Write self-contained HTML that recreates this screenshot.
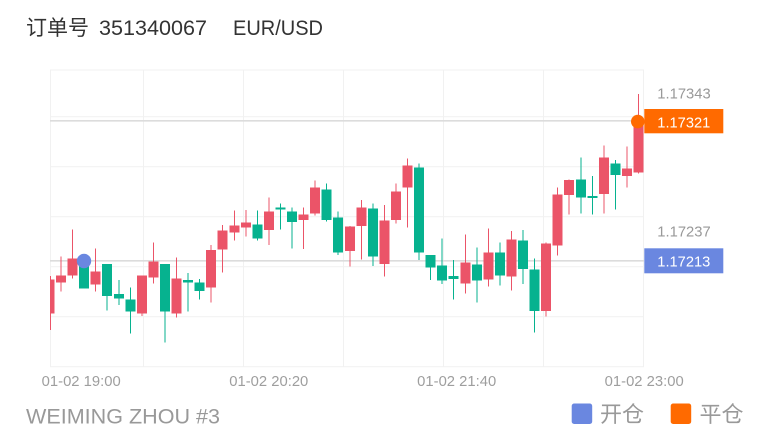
<!DOCTYPE html>
<html>
<head>
<meta charset="utf-8">
<style>
html,body{margin:0;padding:0;background:#fff;}
svg{display:block;}
</style>
</head>
<body>
<svg width="770" height="440" viewBox="0 0 770 440" xmlns="http://www.w3.org/2000/svg">
<rect width="770" height="440" fill="#fff"/>
<!-- title -->
<text x="26" y="35" font-family="'Noto Sans CJK SC', sans-serif" font-size="21" fill="#333">订单号</text>
<text x="99" y="35" font-family="'Liberation Sans', sans-serif" font-size="21" fill="#333" textLength="108" lengthAdjust="spacingAndGlyphs">351340067</text>
<text x="233" y="35" font-family="'Liberation Sans', sans-serif" font-size="21" fill="#333" textLength="90" lengthAdjust="spacingAndGlyphs">EUR/USD</text>

<!-- grid -->
<g stroke="#f1f1f1" stroke-width="1" fill="none">
<line x1="50" y1="70" x2="644" y2="70"/>
<line x1="50" y1="116.7" x2="644" y2="116.7"/>
<line x1="50" y1="166.7" x2="644" y2="166.7"/>
<line x1="50" y1="216.7" x2="644" y2="216.7"/>
<line x1="50" y1="266.7" x2="644" y2="266.7"/>
<line x1="50" y1="316.7" x2="644" y2="316.7"/>
<line x1="50" y1="366.7" x2="644" y2="366.7"/>
<line x1="50.5" y1="70" x2="50.5" y2="366.7"/>
<line x1="143.5" y1="70" x2="143.5" y2="366.7"/>
<line x1="243.5" y1="70" x2="243.5" y2="366.7"/>
<line x1="343.5" y1="70" x2="343.5" y2="366.7"/>
<line x1="443.5" y1="70" x2="443.5" y2="366.7"/>
<line x1="543.5" y1="70" x2="543.5" y2="366.7"/>
<line x1="643.5" y1="70" x2="643.5" y2="366.7"/>
</g>

<!-- reference lines -->
<line x1="50" y1="120.8" x2="644" y2="120.8" stroke="#dcdcdc" stroke-width="1.6"/>
<line x1="50" y1="260.8" x2="644" y2="260.8" stroke="#dcdcdc" stroke-width="1.6"/>

<!-- candles -->
<g id="candles"></g>
<g shape-rendering="crispEdges">
<!-- generated below statically -->
<line x1="50.5" y1="276" x2="50.5" y2="330" stroke="#eb5468"/><rect x="50" y="279.3" width="4.7" height="34" fill="#eb5468"/>
<line x1="61.0" y1="256.7" x2="61.0" y2="291.7" stroke="#eb5468"/><rect x="56.0" y="275.7" width="10" height="6.6" fill="#eb5468"/>
<line x1="72.55" y1="229.3" x2="72.55" y2="278.3" stroke="#eb5468"/><rect x="67.55" y="258.3" width="10" height="17.4" fill="#eb5468"/>
<line x1="84.1" y1="255" x2="84.1" y2="288.3" stroke="#06b28f"/><rect x="79.1" y="259" width="10" height="29.3" fill="#06b28f"/>
<line x1="95.65" y1="248.3" x2="95.65" y2="291.7" stroke="#eb5468"/><rect x="90.65" y="271.7" width="10" height="12.6" fill="#eb5468"/>
<line x1="107.2" y1="264" x2="107.2" y2="310.7" stroke="#06b28f"/><rect x="102.2" y="264" width="10" height="32" fill="#06b28f"/>
<line x1="118.75" y1="280" x2="118.75" y2="305" stroke="#06b28f"/><rect x="113.75" y="294" width="10" height="4.3" fill="#06b28f"/>
<line x1="130.3" y1="287.7" x2="130.3" y2="333.3" stroke="#06b28f"/><rect x="125.3" y="299.3" width="10" height="12.4" fill="#06b28f"/>
<line x1="141.85" y1="275.7" x2="141.85" y2="316" stroke="#eb5468"/><rect x="136.85" y="275.7" width="10" height="37.6" fill="#eb5468"/>
<line x1="153.4" y1="242.7" x2="153.4" y2="283.3" stroke="#eb5468"/><rect x="148.4" y="261.7" width="10" height="16" fill="#eb5468"/>
<line x1="164.95" y1="264" x2="164.95" y2="342.3" stroke="#06b28f"/><rect x="159.95" y="264" width="10" height="47.7" fill="#06b28f"/>
<line x1="176.5" y1="257.7" x2="176.5" y2="317.7" stroke="#eb5468"/><rect x="171.5" y="278.3" width="10" height="35" fill="#eb5468"/>
<line x1="188.05" y1="273" x2="188.05" y2="311.5" stroke="#06b28f"/><rect x="183.05" y="280" width="10" height="2.5" fill="#06b28f"/>
<line x1="199.6" y1="279" x2="199.6" y2="299.3" stroke="#06b28f"/><rect x="194.6" y="282.3" width="10" height="8.7" fill="#06b28f"/>
<line x1="211.15" y1="245" x2="211.15" y2="302.3" stroke="#eb5468"/><rect x="206.15" y="250" width="10" height="37.3" fill="#eb5468"/>
<line x1="222.7" y1="225" x2="222.7" y2="272.3" stroke="#eb5468"/><rect x="217.7" y="230.7" width="10" height="19" fill="#eb5468"/>
<line x1="234.25" y1="210.7" x2="234.25" y2="240.3" stroke="#eb5468"/><rect x="229.25" y="225.7" width="10" height="6.6" fill="#eb5468"/>
<line x1="245.8" y1="210" x2="245.8" y2="236.7" stroke="#eb5468"/><rect x="240.8" y="222.7" width="10" height="4.6" fill="#eb5468"/>
<line x1="257.35" y1="210.7" x2="257.35" y2="240.3" stroke="#06b28f"/><rect x="252.35" y="224.3" width="10" height="14" fill="#06b28f"/>
<line x1="268.9" y1="197.7" x2="268.9" y2="245" stroke="#eb5468"/><rect x="263.9" y="211.7" width="10" height="18.3" fill="#eb5468"/>
<line x1="280.45" y1="203.3" x2="280.45" y2="229.3" stroke="#06b28f"/><rect x="275.45" y="207.3" width="10" height="2.2" fill="#06b28f"/>
<line x1="292.0" y1="207.7" x2="292.0" y2="248.3" stroke="#06b28f"/><rect x="287.0" y="211.7" width="10" height="10.3" fill="#06b28f"/>
<line x1="303.55" y1="207.7" x2="303.55" y2="249" stroke="#eb5468"/><rect x="298.55" y="214.3" width="10" height="5.7" fill="#eb5468"/>
<line x1="315.1" y1="180.7" x2="315.1" y2="215.7" stroke="#eb5468"/><rect x="310.1" y="187.7" width="10" height="25.6" fill="#eb5468"/>
<line x1="326.65" y1="183.3" x2="326.65" y2="221.7" stroke="#06b28f"/><rect x="321.65" y="189.3" width="10" height="30.7" fill="#06b28f"/>
<line x1="338.2" y1="211.7" x2="338.2" y2="255" stroke="#06b28f"/><rect x="333.2" y="217.7" width="10" height="34.6" fill="#06b28f"/>
<line x1="349.75" y1="226" x2="349.75" y2="266.7" stroke="#eb5468"/><rect x="344.75" y="226.7" width="10" height="24.3" fill="#eb5468"/>
<line x1="361.3" y1="200" x2="361.3" y2="259.3" stroke="#eb5468"/><rect x="356.3" y="207.3" width="10" height="18.7" fill="#eb5468"/>
<line x1="372.85" y1="203.3" x2="372.85" y2="266" stroke="#06b28f"/><rect x="367.85" y="208.7" width="10" height="48" fill="#06b28f"/>
<line x1="384.4" y1="205" x2="384.4" y2="276.7" stroke="#eb5468"/><rect x="379.4" y="220.3" width="10" height="43.7" fill="#eb5468"/>
<line x1="395.95" y1="183.3" x2="395.95" y2="223.3" stroke="#eb5468"/><rect x="390.95" y="191.7" width="10" height="28.3" fill="#eb5468"/>
<line x1="407.5" y1="158.3" x2="407.5" y2="227.3" stroke="#eb5468"/><rect x="402.5" y="165.7" width="10" height="22" fill="#eb5468"/>
<line x1="419.05" y1="163.3" x2="419.05" y2="260" stroke="#06b28f"/><rect x="414.05" y="167.3" width="10" height="85" fill="#06b28f"/>
<line x1="430.6" y1="255" x2="430.6" y2="280" stroke="#06b28f"/><rect x="425.6" y="255" width="10" height="12.7" fill="#06b28f"/>
<line x1="442.15" y1="238.3" x2="442.15" y2="284" stroke="#06b28f"/><rect x="437.15" y="265.7" width="10" height="15" fill="#06b28f"/>
<line x1="453.7" y1="260" x2="453.7" y2="299.3" stroke="#06b28f"/><rect x="448.7" y="276" width="10" height="3" fill="#06b28f"/>
<line x1="465.25" y1="234.3" x2="465.25" y2="293.3" stroke="#eb5468"/><rect x="460.25" y="262.7" width="10" height="20.6" fill="#eb5468"/>
<line x1="476.8" y1="247.7" x2="476.8" y2="302.3" stroke="#06b28f"/><rect x="471.8" y="264.3" width="10" height="16.4" fill="#06b28f"/>
<line x1="488.35" y1="228.3" x2="488.35" y2="286.7" stroke="#eb5468"/><rect x="483.35" y="252.7" width="10" height="26.6" fill="#eb5468"/>
<line x1="499.9" y1="242.7" x2="499.9" y2="285.7" stroke="#06b28f"/><rect x="494.9" y="252.7" width="10" height="23" fill="#06b28f"/>
<line x1="511.45" y1="231" x2="511.45" y2="290.7" stroke="#eb5468"/><rect x="506.45" y="239.3" width="10" height="37.4" fill="#eb5468"/>
<line x1="523.0" y1="230" x2="523.0" y2="284" stroke="#06b28f"/><rect x="518.0" y="240.7" width="10" height="28.3" fill="#06b28f"/>
<line x1="534.55" y1="258.3" x2="534.55" y2="332.3" stroke="#06b28f"/><rect x="529.55" y="269.3" width="10" height="41.7" fill="#06b28f"/>
<line x1="546.1" y1="242.7" x2="546.1" y2="316.7" stroke="#eb5468"/><rect x="541.1" y="243.3" width="10" height="67.7" fill="#eb5468"/>
<line x1="557.65" y1="187.3" x2="557.65" y2="255.7" stroke="#eb5468"/><rect x="552.65" y="194.3" width="10" height="51.4" fill="#eb5468"/>
<line x1="569.2" y1="179.3" x2="569.2" y2="214.3" stroke="#eb5468"/><rect x="564.2" y="180" width="10" height="15" fill="#eb5468"/>
<line x1="580.75" y1="157.7" x2="580.75" y2="213.3" stroke="#06b28f"/><rect x="575.75" y="179.3" width="10" height="18.4" fill="#06b28f"/>
<line x1="592.3" y1="176" x2="592.3" y2="214.3" stroke="#06b28f"/><rect x="587.3" y="196" width="10" height="2" fill="#06b28f"/>
<line x1="603.85" y1="145.7" x2="603.85" y2="213.3" stroke="#eb5468"/><rect x="598.85" y="157.3" width="10" height="36.7" fill="#eb5468"/>
<line x1="615.4" y1="160" x2="615.4" y2="209.3" stroke="#06b28f"/><rect x="610.4" y="163.3" width="10" height="11.7" fill="#06b28f"/>
<line x1="626.95" y1="146.7" x2="626.95" y2="187.3" stroke="#eb5468"/><rect x="621.95" y="168.3" width="10" height="7.7" fill="#eb5468"/>
<line x1="638.5" y1="94" x2="638.5" y2="173.3" stroke="#eb5468"/><rect x="633.5" y="121.5" width="10" height="50.8" fill="#eb5468"/>
</g>

<!-- markers -->
<circle cx="84" cy="261" r="7.2" fill="#6a87e0"/>
<circle cx="637.8" cy="121.6" r="6.8" fill="#ff6a00"/>

<!-- right labels -->
<text x="657.3" y="98.3" font-family="'Liberation Sans', sans-serif" font-size="15" fill="#999" textLength="53.4" lengthAdjust="spacingAndGlyphs">1.17343</text>
<rect x="644.3" y="109" width="79" height="24.3" fill="#ff6a00"/>
<text x="657.3" y="127.3" font-family="'Liberation Sans', sans-serif" font-size="15" fill="#fff" textLength="53" lengthAdjust="spacingAndGlyphs">1.17321</text>
<text x="657.3" y="236.7" font-family="'Liberation Sans', sans-serif" font-size="15" fill="#999" textLength="53.4" lengthAdjust="spacingAndGlyphs">1.17237</text>
<rect x="644.3" y="248.3" width="79" height="25" fill="#6a87e0"/>
<text x="657.3" y="266.7" font-family="'Liberation Sans', sans-serif" font-size="15" fill="#fff" textLength="53" lengthAdjust="spacingAndGlyphs">1.17213</text>

<!-- x axis labels -->
<g font-family="'Liberation Sans', sans-serif" font-size="14.5" fill="#9e9e9e" text-anchor="middle">
<text x="81.2" y="386" textLength="79" lengthAdjust="spacingAndGlyphs">01-02 19:00</text>
<text x="268.8" y="386" textLength="79" lengthAdjust="spacingAndGlyphs">01-02 20:20</text>
<text x="456.7" y="386" textLength="79" lengthAdjust="spacingAndGlyphs">01-02 21:40</text>
<text x="644.2" y="386" textLength="79" lengthAdjust="spacingAndGlyphs">01-02 23:00</text>
</g>

<!-- footer -->
<text x="26" y="423.3" font-family="'Liberation Sans', sans-serif" font-size="21" fill="#999" textLength="194" lengthAdjust="spacingAndGlyphs">WEIMING ZHOU #3</text>
<rect x="571.7" y="403.5" width="20.5" height="20.5" rx="2.5" fill="#6a87e0"/>
<text x="600" y="422" font-family="'Noto Sans CJK SC', sans-serif" font-size="22" fill="#999">开仓</text>
<rect x="670.7" y="403.5" width="20.5" height="20.5" rx="2.5" fill="#ff6a00"/>
<text x="699.5" y="422" font-family="'Noto Sans CJK SC', sans-serif" font-size="22" fill="#999">平仓</text>
</svg>
</body>
</html>
